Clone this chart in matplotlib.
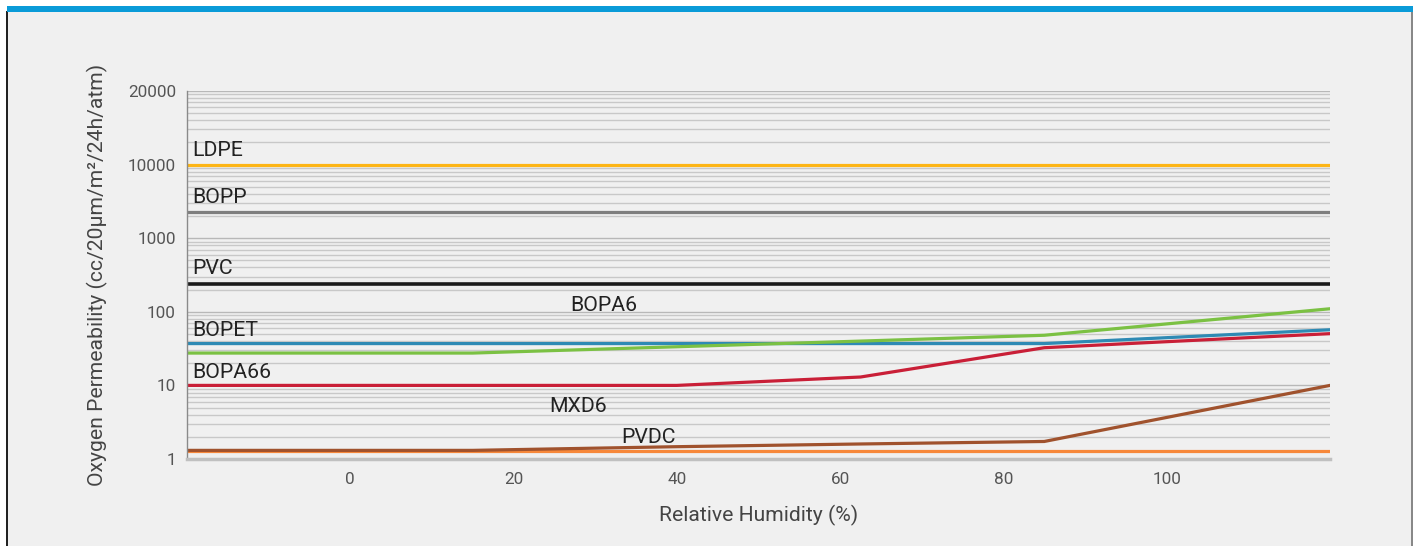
import numpy as np
import matplotlib.pyplot as plt
from matplotlib.patches import Rectangle
from matplotlib.ticker import LogLocator, NullFormatter

plt.rcParams['font.family'] = ['Roboto', 'DejaVu Sans']

# relative humidity (%) breakpoints and permeability values
rh_flat = [-20, 120]
ldpe = [10000, 10000]
bopp = [2280, 2280]
pvc = [236, 236]
pvdc = [1.29, 1.29]

rh_bopet = [-20, 85, 120]
bopet = [37, 37, 57]

rh_bopa6 = [-20, 15, 40, 62.5, 85, 120]
bopa6 = [27.5, 27.5, 33.5, 40, 48, 110]

rh_bopa66 = [-20, 40, 62.5, 85, 120]
bopa66 = [10, 10, 13, 32.5, 50.5]

rh_mxd6 = [-20, 15, 40, 62.5, 85, 120]
mxd6 = [1.31, 1.31, 1.47, 1.6, 1.73, 10]

x_ticks = [0, 20, 40, 60, 80, 100]
y_ticks = [1, 10, 100, 1000, 10000, 100000]
y_tick_labels = ['1', '10', '100', '1000', '10000', '20000']

# series label, text position (x, y), alignment
labels = [
    ('LDPE', -19.3, 15700, 'left'),
    ('BOPP', -19.3, 3600, 'left'),
    ('PVC', -19.3, 390, 'left'),
    ('BOPA6', 31.1, 122, 'center'),
    ('BOPET', -19.3, 56, 'left'),
    ('BOPA66', -19.3, 15, 'left'),
    ('MXD6', 27.9, 5.2, 'center'),
    ('PVDC', 36.5, 1.95, 'center'),
]

fig = plt.figure(figsize=(14.18, 5.46), dpi=100, facecolor='white')

# card background, left/right borders and blue top bar
fig.patches.append(Rectangle((7 / 1418, 0), 1406 / 1418, 1 - 7 / 546,
                             transform=fig.transFigure, facecolor='#f0f0f0',
                             edgecolor='none', zorder=-10))
fig.patches.append(Rectangle((6 / 1418, 0), 2 / 1418, 1 - 11 / 546,
                             transform=fig.transFigure, facecolor='#222222',
                             edgecolor='none', zorder=-9))
fig.patches.append(Rectangle((1411 / 1418, 0), 2 / 1418, 1 - 11 / 546,
                             transform=fig.transFigure, facecolor='#888888',
                             edgecolor='none', zorder=-9))
fig.patches.append(Rectangle((7 / 1418, 1 - 12 / 546), 1406 / 1418, 6 / 546,
                             transform=fig.transFigure, facecolor='#0a9bd8',
                             edgecolor='none', zorder=-8))

ax = fig.add_axes([187 / 1418, 1 - 459 / 546, (1330 - 187) / 1418, (459 - 91) / 546])
ax.set_facecolor('none')

ax.plot(rh_flat, ldpe, color='#fdb515', lw=2.3)
ax.plot(rh_flat, bopp, color='#7f7f7f', lw=2.3)
ax.plot(rh_flat, pvc, color='#1c1c1c', lw=2.6)
ax.plot(rh_flat, pvdc, color='#f7883a', lw=2.3)
ax.plot(rh_bopet, bopet, color='#2e8ab4', lw=2.3)
ax.plot(rh_bopa6, bopa6, color='#7bc143', lw=2.3)
ax.plot(rh_bopa66, bopa66, color='#c91f37', lw=2.3)
ax.plot(rh_mxd6, mxd6, color='#a0522d', lw=2.3)

for name, tx, ty, ha in labels:
    ax.text(tx, ty, name, ha=ha, va='center', fontsize=15.3, color='#222222')

ax.set_yscale('log')
ax.set_xlim(-20, 120)
ax.set_ylim(1, 100000)
ax.set_xticks(x_ticks)
ax.set_yticks(y_ticks)
ax.set_yticklabels(y_tick_labels)
ax.yaxis.set_minor_locator(LogLocator(base=10, subs=np.arange(2, 10)))
ax.yaxis.set_minor_formatter(NullFormatter())

ax.grid(axis='y', which='major', color='#b8b8b8', lw=1)
ax.grid(axis='y', which='minor', color='#c8c8c8', lw=1)
ax.set_axisbelow(True)

ax.tick_params(axis='both', which='both', length=0, labelsize=12.3, labelcolor='#555555')
ax.tick_params(axis='x', pad=9)
ax.tick_params(axis='y', pad=8)

for s in ['top', 'right']:
    ax.spines[s].set_visible(False)
ax.spines['left'].set_color('#8a8a8a')
ax.spines['left'].set_linewidth(1)
ax.spines['bottom'].set_color('#c0c0c0')
ax.spines['bottom'].set_linewidth(2.5)

ax.set_xlabel('Relative Humidity (%)', fontsize=15.2, color='#444444',
              labelpad=13)
ax.set_ylabel('Oxygen Permeability (cc/20\u03bcm/m\u00b2/24h/atm)', fontsize=15.2,
              color='#444444', labelpad=14)

fig.savefig('out.png', dpi=100, facecolor=fig.get_facecolor())
